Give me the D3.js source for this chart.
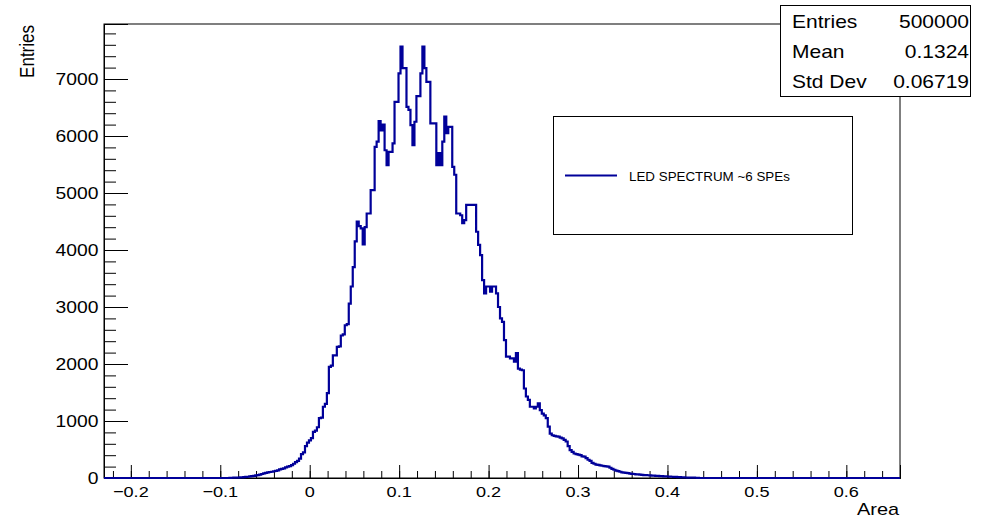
<html><head><meta charset="utf-8"><title>LED spectrum</title>
<style>
body { margin: 0; background: #fff; }
svg text { font-family: "Liberation Sans", Arial, sans-serif; fill: #000; }
</style>
<script src="https://d3js.org/d3.v7.min.js"></script>
</head>
<body>
<div id="chart"></div>
<script>
// histogram definition
const xMin = -0.23;
const xMax = 0.66;
const nBins = 400;
const firstBin = 63;
// bin contents from firstBin onwards (everything else is 0)
const counts = [
  3, 4, 5, 6, 8, 10, 12, 15, 18, 22, 27, 32, 38, 45, 52, 60, 70, 80, 90, 98,
  105, 110, 118, 125, 135, 150, 160, 170, 185, 200, 210, 225, 250, 280, 300, 340, 420, 450, 560, 620,
  660, 700, 810, 830, 890, 1050, 1060, 1250, 1300, 1490, 1950, 1970, 2150, 2150, 2300, 2310, 2500, 2520, 2680, 2700,
  3060, 3360, 3700, 4150, 4500, 4420, 4380, 4100, 4400, 4640, 4640, 5050, 5050, 5810, 5900, 6260, 6100, 6200, 5750, 5490,
  5720, 5720, 5870, 6600, 6600, 7100, 7570, 7190, 7190, 6510, 6460, 6190, 5840, 6250, 6700, 6700, 7100, 7570, 7190, 6950,
  6950, 6220, 6220, 6220, 5490, 5700, 5490, 5900, 6340, 6050, 6160, 6160, 5460, 5320, 4640, 4640, 4610, 4470, 4525, 4790,
  4790, 4790, 4790, 4790, 4320, 4090, 3910, 3470, 3240, 3360, 3360, 3270, 3360, 3360, 3240, 3000, 2800, 2740, 2420, 2130,
  2130, 2100, 2100, 2040, 2190, 1920, 1900, 1890, 1570, 1430, 1370, 1250, 1250, 1220, 1250, 1310, 1190, 1130, 1100, 1050,
  900, 780, 750, 740, 730, 725, 710, 695, 670, 640, 560, 490, 460, 430, 420, 410, 400, 380, 375, 350,
  320, 300, 265, 250, 235, 230, 220, 215, 210, 205, 200, 180, 160, 145, 130, 120, 110, 100, 95, 90,
  85, 78, 72, 70, 65, 62, 58, 55, 52, 50, 48, 45, 42, 40, 38, 36, 34, 32, 30, 28,
  26, 24, 22, 20, 18, 16, 14, 12, 10, 9, 8, 7, 6, 5, 4, 3
];
const yMax = 7965;

const xMajor = [-0.2, -0.1, 0, 0.1, 0.2, 0.3, 0.4, 0.5, 0.6];
const xLabels = ["\u22120.2", "\u22120.1", "0", "0.1", "0.2", "0.3", "0.4", "0.5", "0.6"];
const yMajor = [0, 1000, 2000, 3000, 4000, 5000, 6000, 7000];
const yLabels = ["0", "1000", "2000", "3000", "4000", "5000", "6000", "7000"];

const statNames = ["Entries", "Mean", "Std Dev"];
const statValues = ["500000", "0.1324", "0.06719"];
const legendLabel = "LED SPECTRUM ~6 SPEs";
const lineColor = "#000099";

const width = 985, height = 518;
const frame = {left: 104, right: 900, top: 24, bottom: 478};
const stretch = 1.17;

const svg = d3.select("#chart").append("svg")
    .attr("width", width)
    .attr("height", height);

const x = d3.scaleLinear().domain([xMin, xMax]).range([frame.left, frame.right]);
const y = d3.scaleLinear().domain([0, yMax]).range([frame.bottom, frame.top]);

// frame
svg.append("rect")
    .attr("x", frame.left).attr("y", frame.top)
    .attr("width", frame.right - frame.left)
    .attr("height", frame.bottom - frame.top)
    .attr("fill", "none").attr("stroke", "#000").attr("stroke-width", 1);

// minor / major ticks
const xMinor = d3.range(-0.22, xMax, 0.02).map(v => +v.toFixed(2));
const yMinor = d3.range(0, yMax, 200);

function tickAxis(axis, values, size) {
    return axis.tickValues(values).tickSize(size).tickFormat("");
}
const gx = svg.append("g").attr("transform", `translate(0,${frame.bottom})`);
gx.append("g").call(tickAxis(d3.axisBottom(x), xMinor, -7));
gx.append("g").call(tickAxis(d3.axisBottom(x), xMajor, -13));
const gy = svg.append("g").attr("transform", `translate(${frame.left},0)`);
gy.append("g").call(tickAxis(d3.axisLeft(y), yMinor, -12));
gy.append("g").call(tickAxis(d3.axisLeft(y), yMajor, -24));
svg.selectAll(".domain").attr("stroke", "#000");
svg.selectAll(".tick line").attr("stroke", "#000");

// tick labels
svg.append("g").selectAll("text").data(xMajor).join("text")
    .attr("transform", (d) => `translate(${x(d)},497) scale(${stretch},1)`)
    .attr("text-anchor", "middle")
    .style("font-size", "15.5px")
    .text((d, i) => xLabels[i]);

svg.append("g").selectAll("text").data(yMajor).join("text")
    .attr("transform", (d) => `translate(98.5,${y(d) + 6}) scale(${stretch},1)`)
    .attr("text-anchor", "end")
    .style("font-size", "16.5px")
    .text((d, i) => yLabels[i]);

// axis titles
svg.append("text")
    .attr("transform", "translate(33.5,25) rotate(-90) scale(1,1.17)")
    .attr("text-anchor", "end")
    .style("font-size", "17px")
    .text("Entries");
svg.append("text")
    .attr("transform", `translate(899,515) scale(${stretch},1)`)
    .attr("text-anchor", "end")
    .style("font-size", "17px")
    .text("Area");

// histogram outline
const bw = (xMax - xMin) / nBins;
const bins = d3.range(nBins).map(i => {
    const k = i - firstBin;
    return k >= 0 && k < counts.length ? counts[k] : 0;
});
const pts = bins.map((c, i) => [xMin + i * bw, c]);
pts.push([xMax, bins[nBins - 1]]);
const line = d3.line()
    .x(d => x(d[0]))
    .y(d => y(d[1]))
    .curve(d3.curveStepAfter);
svg.append("path")
    .attr("d", line(pts))
    .attr("fill", "none")
    .attr("stroke", lineColor)
    .attr("stroke-width", 2.2);

// legend
svg.append("rect")
    .attr("x", 553.5).attr("y", 116.5).attr("width", 299).attr("height", 118)
    .attr("fill", "#fff").attr("stroke", "#000");
svg.append("line")
    .attr("x1", 565).attr("x2", 617).attr("y1", 175.5).attr("y2", 175.5)
    .attr("stroke", lineColor).attr("stroke-width", 2.2);
svg.append("text")
    .attr("transform", "translate(629,180.5) scale(1.07,1)")
    .style("font-size", "12.5px")
    .text(legendLabel);

// stats box
svg.append("rect")
    .attr("x", 780.5).attr("y", 5.5).attr("width", 190).attr("height", 91)
    .attr("fill", "#fff").attr("stroke", "#000");
const rows = svg.append("g").selectAll("g").data(statNames).join("g");
rows.append("text")
    .attr("transform", (d, i) => `translate(792,${27.7 + i * 30.3}) scale(1.2,1)`)
    .style("font-size", "17.5px")
    .text(d => d);
rows.append("text")
    .attr("transform", (d, i) => `translate(969,${27.7 + i * 30.3}) scale(1.2,1)`)
    .attr("text-anchor", "end")
    .style("font-size", "17.5px")
    .text((d, i) => statValues[i]);
</script>
</body></html>
